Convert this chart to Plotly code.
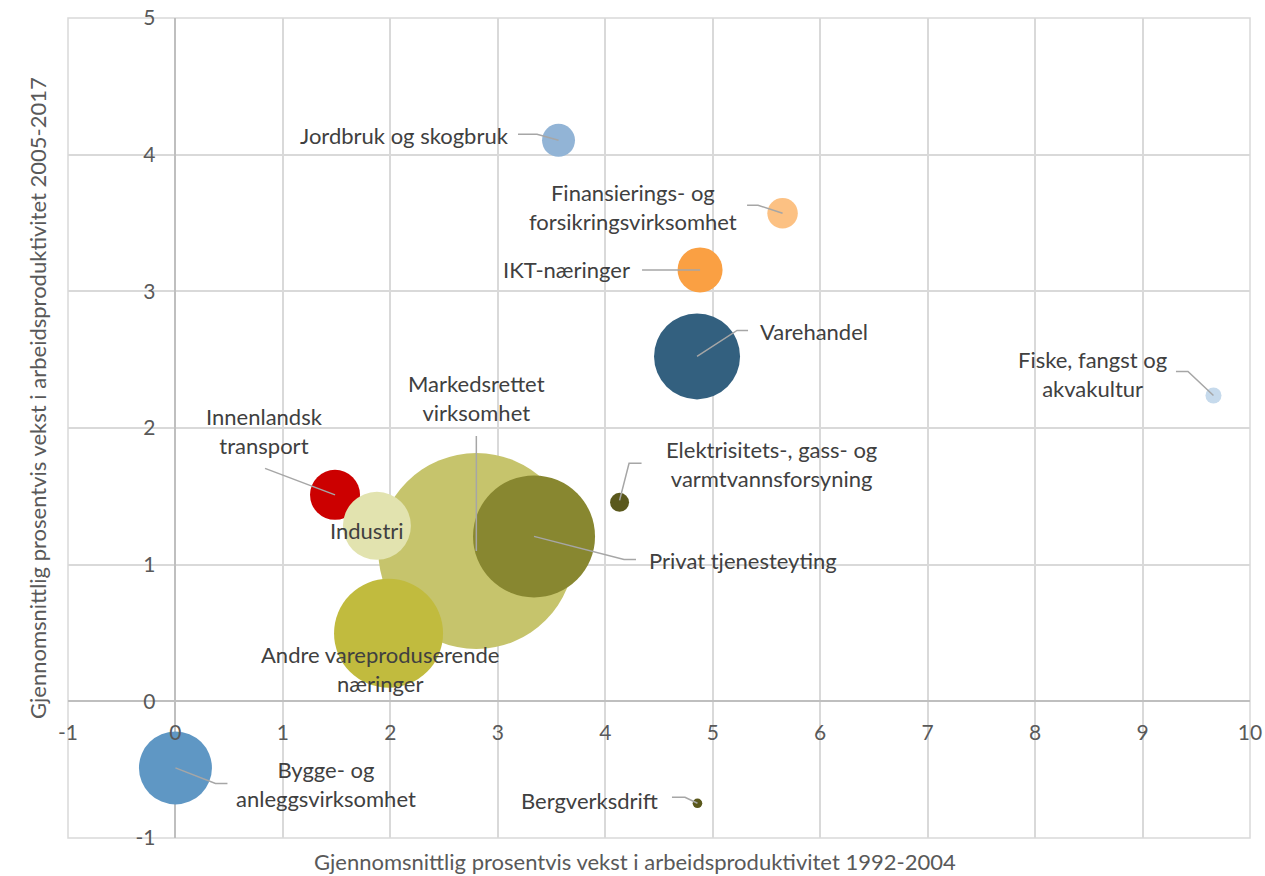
import plotly.graph_objects as go

# ---- data ----
names = [
    "Markedsrettet<br>virksomhet",
    "Jordbruk og skogbruk",
    "Finansierings- og<br>forsikringsvirksomhet",
    "IKT-næringer",
    "Varehandel",
    "Fiske, fangst og<br>akvakultur",
    "Innenlandsk<br>transport",
    "Industri",
    "Privat tjenesteyting",
    "Elektrisitets-, gass- og<br>varmtvannsforsyning",
    "Andre vareproduserende<br>næringer",
    "Bygge- og<br>anleggsvirksomhet",
    "Bergverksdrift",
]
growth_1992_2004 = [2.80, 3.565, 5.65, 4.882, 4.854, 9.66, 1.485, 1.875, 3.337, 4.133, 1.983, 0.0, 4.858]
growth_2005_2017 = [1.10, 4.105, 3.571, 3.157, 2.524, 2.238, 1.511, 1.284, 1.207, 1.456, 0.498, -0.487, -0.746]
weight = [100, 2.83, 2.42, 5.27, 19.25, 0.67, 6.51, 12.04, 38.74, 0.94, 30.93, 13.87, 0.24]

x_ticks = list(range(-1, 11))
y_ticks = list(range(-1, 6))
x_tick_labels = [str(v) for v in x_ticks]
y_tick_labels = [str(v) for v in y_ticks]

# ---- styles ----
colors = ["#C6C46C", "#92B4D6", "#FCC183", "#FAA043", "#33607F", "#C6DAEC",
          "#CC0000", "#E2E3AF", "#888730", "#5A581C", "#C1BB3E", "#5F97C4", "#5A581C"]
# label placement: (dx, dy) screen px from point, anchor, leader path (screen px, y down)
label_pos = [
    (0, -153, "center", [(0, 0), (0, -115)]),
    (-48, -5, "right", [(0, 0), (-21.5, -6), (-40.5, -6)]),
    (-150, -6, "center", [(0, 0), (-24.5, -8), (-35.5, -8)]),
    (-68, 0, "right", [(0, 0), (-58, 0)]),
    (61, -25, "left", [(0, 0), (40, -26), (51, -26)]),
    (-121, -21, "center", [(0, 0), (-25.5, -24), (-37.5, -24)]),
    (-71, -64, "center", [(0, 0), (-70, -26.5)]),
    (-10, 5, "center", None),
    (113, 24, "left", [(0, 0), (90, 23), (102, 23)]),
    (152, -38, "center", [(0, -2), (9.5, -39), (22, -39)]),
    (-9, 36, "center", None),
    (151, 16, "center", [(0, 0), (40, 15.5), (52, 15.5)]),
    (-37, -3, "right", [(0, 0), (-12.5, -6), (-25.5, -6)]),
]

FONT = "Lato"
max_r = 98
sizeref = max(weight) / (2 * max_r ** 2)

fig = go.Figure()
fig.add_trace(go.Scatter(
    x=growth_1992_2004, y=growth_2005_2017, mode="markers",
    marker=dict(size=weight, sizemode="area", sizeref=sizeref,
                color=colors, opacity=1, line=dict(width=0)),
    hovertext=names, showlegend=False,
))

annotations = []
shapes = []
for i, name in enumerate(names):
    dx, dy, anchor, path = label_pos[i]
    annotations.append(dict(
        x=growth_1992_2004[i], y=growth_2005_2017[i], xref="x", yref="y",
        text=name, showarrow=False, xanchor=anchor, yanchor="middle",
        xshift=dx, yshift=-dy, align="center",
        font=dict(family=FONT, size=22, color="#404040"),
    ))
    if path:
        p = "M " + " L ".join(f"{px},{-py}" for px, py in path)
        shapes.append(dict(
            type="path", xref="x", yref="y", xsizemode="pixel", ysizemode="pixel",
            xanchor=growth_1992_2004[i], yanchor=growth_2005_2017[i], path=p,
            line=dict(color="#A6A6A6", width=1.5), layer="above",
        ))

annotations.append(dict(
    x=0.4793, y=-0.029, xref="paper", yref="paper", xanchor="center", yanchor="middle",
    text="Gjennomsnittlig prosentvis vekst i arbeidsproduktivitet 1992-2004",
    showarrow=False, font=dict(family=FONT, size=22, color="#595959")))
annotations.append(dict(
    x=-0.0254, y=0.5366, xref="paper", yref="paper", xanchor="center", yanchor="middle",
    textangle=-90,
    text="Gjennomsnittlig prosentvis vekst i arbeidsproduktivitet 2005-2017",
    showarrow=False, font=dict(family=FONT, size=22, color="#595959")))

shapes.append(dict(type="rect", xref="paper", yref="paper", x0=0, x1=1, y0=0, y1=1,
                   line=dict(color="#D9D9D9", width=1.5), layer="below"))

fig.update_layout(
    width=1265, height=876,
    margin=dict(l=68, r=15, t=18, b=38, autoexpand=False),
    paper_bgcolor="white", plot_bgcolor="white",
    annotations=annotations, shapes=shapes,
    font=dict(family=FONT),
    xaxis=dict(range=[-1, 10], tickvals=x_ticks, ticktext=x_tick_labels,
               gridcolor="#D9D9D9", gridwidth=1.5, automargin=False,
               zeroline=True, zerolinecolor="#BFBFBF", zerolinewidth=1.5,
               anchor="free", position=1 / 6, showline=False, ticks="",
               ticklabelstandoff=17,
               tickfont=dict(family=FONT, size=21, color="#595959")),
    yaxis=dict(range=[-1, 5], tickvals=y_ticks, ticktext=y_tick_labels,
               gridcolor="#D9D9D9", gridwidth=1.5, automargin=False,
               zeroline=True, zerolinecolor="#BFBFBF", zerolinewidth=1.5,
               anchor="free", position=1 / 11, showline=False, ticks="",
               ticklabelstandoff=20,
               tickfont=dict(family=FONT, size=21, color="#595959")),
)

fig.write_html(
    "out.html",
    config={"displayModeBar": False},
    post_script="document.body.style.margin='0';document.body.style.overflow='hidden';",
)
